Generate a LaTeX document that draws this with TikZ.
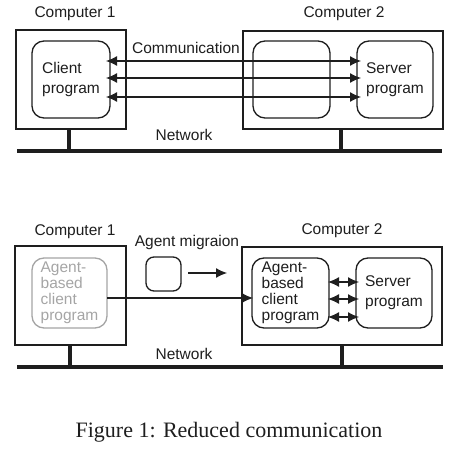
\documentclass[tikz,border=0pt]{standalone}
\usepackage{fontspec}
\setmainfont{Liberation Sans}
\newfontfamily\capfont{Liberation Serif}
\usetikzlibrary{arrows.meta}
\definecolor{agentgray}{RGB}{165,165,165}
\definecolor{ink}{RGB}{30,30,30}
\begin{document}
\begin{tikzpicture}[x=1pt,y=-1pt,
  every node/.style={inner sep=0pt,outer sep=0pt,text=ink,font=\fontsize{15.5}{20}\selectfont},
  compbox/.style={draw=ink,line width=1.3pt},
  progbox/.style={draw=ink,line width=1.3pt,rounded corners=12pt,align=left},
  lbl/.style={},
  netline/.style={draw=ink,line width=4.5pt},
  stubline/.style={draw=ink,line width=4pt},
  tip/.style={draw=ink,line width=1.1pt,{Latex[length=11pt,width=10pt]}-{Latex[length=11pt,width=10pt]}},
  onetip/.style={draw=ink,line width=1.1pt,-{Latex[length=11pt,width=10pt]}}
]
\useasboundingbox (0,0) rectangle (459,450);
% ---------- top ----------
\node[compbox,minimum width=110pt,minimum height=99pt] (c1t) at (71,79.5) {};
\node[progbox,minimum width=78pt,minimum height=77pt] (client) at (71,79.5) {Client\\program};
\node[compbox,minimum width=200pt,minimum height=98pt] (c2t) at (343,80) {};
\node[progbox,minimum width=77pt,minimum height=77pt] (empty) at (291.5,79.5) {};
\node[progbox,minimum width=76pt,minimum height=77pt] (server) at (395,79.5) {Server\\program};
\node[lbl] (lc1t) at (75,14) {Computer 1};
\node[lbl] (lc2t) at (344,14) {Computer 2};
\node[lbl] (lcomm) at (186,48) {Communication};
\node[lbl] (lnett) at (184,135) {Network};
\foreach \dy/\n in {-18.5/a,-1.5/b,17.5/c}{
  \draw[tip] ([xshift=-4pt,yshift=-\dy pt]client.east) -- ([xshift=4pt,yshift=-\dy pt]server.west);
}
\coordinate (ntL) at (17,151);
\coordinate (ntR) at (442,151);
\draw[netline] (ntL) -- (ntR);
\coordinate (s1t) at (69,151);
\coordinate (s2t) at (341,151);
\draw[stubline] (c1t.south -| s1t) -- (s1t);
\draw[stubline] (c2t.south -| s2t) -- (s2t);
% ---------- bottom ----------
\node[compbox,minimum width=111pt,minimum height=99pt] (c1b) at (70.5,295.5) {};
\node[progbox,draw=agentgray,text=agentgray,minimum width=75pt,minimum height=70pt,font=\fontsize{15.5}{16}\selectfont] (gagent) at (69.5,293) {Agent-\\based\\client\\program};
\node[draw=ink,line width=1.3pt,rounded corners=8pt,minimum width=35pt,minimum height=34pt] (small) at (163.5,274) {};
\coordinate (marrow) at (227,273);
\draw[onetip] ([xshift=7pt,yshift=1pt]small.east) -- (marrow);
\node[lbl] (lmig) at (187,242) {Agent migraion};
\node[compbox,minimum width=200pt,minimum height=98pt] (c2b) at (342,296) {};
\node[progbox,minimum width=77pt,minimum height=70pt,font=\fontsize{15.5}{16}\selectfont] (agent) at (290.5,293) {Agent-\\based\\client\\program};
\node[progbox,minimum width=76pt,minimum height=70pt] (server2) at (394,293) {Server\\program};
\node[lbl] (lc1b) at (75,232) {Computer 1};
\node[lbl] (lc2b) at (342,231) {Computer 2};
\node[lbl] (lnetb) at (184,354) {Network};
\foreach \dy in {-11,6,24}{
  \draw[tip] ([xshift=-1pt,yshift=-\dy pt]agent.east) -- ([xshift=3pt,yshift=-\dy pt]server2.west);
}
\draw[onetip] ([yshift=-5pt]gagent.east) -- ([xshift=1pt,yshift=-5pt]agent.west);
\coordinate (nbL) at (17,367);
\coordinate (nbR) at (443,367);
\draw[netline] (nbL) -- (nbR);
\coordinate (s1b) at (70,367);
\coordinate (s2b) at (342,367);
\draw[stubline] (c1b.south -| s1b) -- (s1b);
\draw[stubline] (c2b.south -| s2b) -- (s2b);
% ---------- caption ----------
\node[font=\capfont\fontsize{22}{26}\selectfont] (cap) at (229,432) {Figure 1: Reduced communication};
\end{tikzpicture}
\end{document}
